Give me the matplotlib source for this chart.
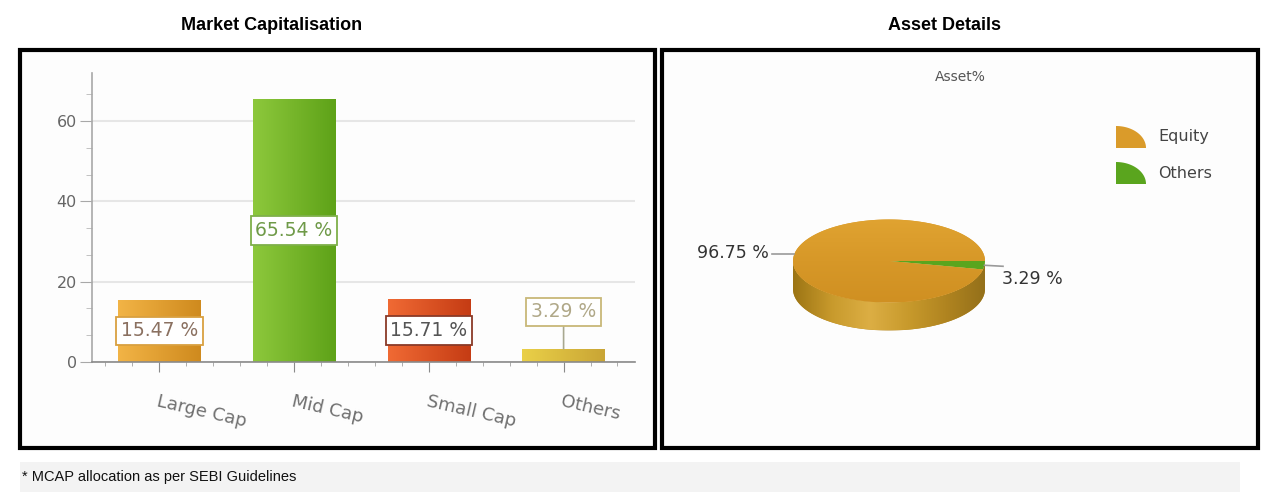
import numpy as np
import matplotlib.pyplot as plt
from matplotlib.patches import Rectangle, Polygon
from matplotlib.colors import LinearSegmentedColormap
from matplotlib.ticker import MultipleLocator

W, H = 1270, 501

# market capitalisation split (%)
cap_labels = ['Large Cap', 'Mid Cap', 'Small Cap', 'Others']
cap_values = [15.47, 65.54, 15.71, 3.29]
cap_light = ['#f2b446', '#8dc83c', '#f06a34', '#ead048']
cap_dark = ['#cf8a1e', '#5ea218', '#c53c14', '#c9a535']
box_edge = ['#d9a040', '#7fb04a', '#8a3a28', '#c8b878']
box_text = ['#8a7060', '#6f9a48', '#555555', '#b0a888']

# asset allocation (%)
asset_labels = ['Equity', 'Others']
asset_values = [96.75, 3.29]
asset_colors = ['#da9b2a', '#5aa51e']


def px_rect(x0, y0, x1, y1):
    # pixel box with top-left origin -> figure fraction [l, b, w, h]
    return [x0 / W, 1 - y1 / H, (x1 - x0) / W, (y1 - y0) / H]


def frame(x0, y0, x1, y1, **kw):
    r = Rectangle((x0 / W, 1 - y1 / H), (x1 - x0) / W, (y1 - y0) / H,
                  transform=fig.transFigure, **kw)
    fig.add_artist(r)
    return r


fig = plt.figure(figsize=(W / 100, H / 100), dpi=100)
fig.patch.set_facecolor('white')

# panel frames and footer strip
frame(20, 50, 655, 448, facecolor='#fdfdfd', edgecolor='black', lw=3, zorder=0)
frame(662, 50, 1258, 448, facecolor='#fdfdfd', edgecolor='black', lw=3, zorder=0)
frame(20, 462, 1240, 492, facecolor='#f3f3f3', edgecolor='none', zorder=0)

fig.text(272 / W, 1 - 25 / H, 'Market Capitalisation', ha='center', va='center',
         fontsize=13, fontweight='bold', family='Liberation Sans')
fig.text(945 / W, 1 - 25 / H, 'Asset Details', ha='center', va='center',
         fontsize=13, fontweight='bold', family='Liberation Sans')
fig.text(22 / W, 1 - 477 / H, '* MCAP allocation as per SEBI Guidelines', ha='left',
         va='center', fontsize=10.5, family='Liberation Sans', color='#111111')

# ---- bar chart ----
ax = fig.add_axes(px_rect(92, 73, 635, 362))
ax.set_facecolor('none')
x = np.arange(len(cap_values))
bw = 0.61
bars = ax.bar(x, cap_values, width=bw, color=cap_dark, zorder=2)
for b, c0, c1 in zip(bars, cap_light, cap_dark):
    cmap = LinearSegmentedColormap.from_list('bar', [c0, c1])
    bx, by = b.get_x(), b.get_y()
    im = ax.imshow(np.linspace(0, 1, 128)[None, :], cmap=cmap, aspect='auto',
                   extent=[bx, bx + b.get_width(), by, by + b.get_height()], zorder=2.1)
    im.set_clip_path(b)

ax.set_xlim(-0.5, 3.53)
ax.set_ylim(0, 72)
for s in ['top', 'right']:
    ax.spines[s].set_visible(False)
ax.spines['left'].set_color('#a8a8a8')
ax.spines['bottom'].set_color('#8a8a8a')
ax.spines['left'].set_linewidth(1.2)
ax.spines['bottom'].set_linewidth(1.2)

ax.yaxis.set_major_locator(MultipleLocator(20))
ax.yaxis.set_minor_locator(MultipleLocator(20 / 3))
ax.xaxis.set_minor_locator(MultipleLocator(0.2))
ax.set_xticks(x)
ax.set_xticklabels(cap_labels, rotation=-13, ha='left', rotation_mode='anchor')
ax.tick_params(axis='y', which='major', length=9, color='#a8a8a8', labelsize=11.5,
               labelcolor='#666666', pad=2)
ax.tick_params(axis='y', which='minor', length=4, color='#b8b8b8')
ax.tick_params(axis='x', which='major', length=7, color='#8a8a8a', labelsize=13,
               labelcolor='#707070', pad=15)
ax.tick_params(axis='x', which='minor', length=3, color='#a0a0a0')
ax.grid(axis='y', which='major', color='#e6e6e6', lw=1.5, zorder=0)
ax.set_axisbelow(True)

for i, v in enumerate(cap_values):
    bbox = dict(boxstyle='square,pad=0.25', facecolor='white', edgecolor=box_edge[i], lw=1.3)
    if v > 10:
        ax.text(i, v / 2, f'{v:.2f} %', ha='center', va='center', fontsize=13.5,
                color=box_text[i], bbox=bbox, zorder=4)
    else:
        ax.annotate(f'{v:.2f} %', xy=(i, v), xytext=(i, 12.5), ha='center', va='center',
                    fontsize=13.5, color=box_text[i], bbox=bbox, zorder=4,
                    arrowprops=dict(arrowstyle='-', color='#a8a890', lw=1.2,
                                    shrinkA=0, shrinkB=0))

# ---- 3D pie ----
ax2 = fig.add_axes(px_rect(662, 50, 1258, 448))
ax2.set_xlim(662, 1258)
ax2.set_ylim(448, 50)
ax2.axis('off')

cx, cy, ra, rb, depth = 889, 261, 96, 41.5, 28


def ell(t):
    t = np.radians(t)
    return cx + ra * np.cos(t), cy - rb * np.sin(t)


ax2.text(960, 77, 'Asset%', ha='center', va='center', fontsize=10, color='#555555')

# side wall (front half of the ellipse)
ts = np.linspace(180, 360, 120)
sx, sy = ell(ts)
side = Polygon(np.column_stack([np.r_[sx, sx[::-1]], np.r_[sy, sy[::-1] + depth]]),
               closed=True, facecolor='#b88a22', edgecolor='none', zorder=1)
ax2.add_patch(side)
side_cmap = LinearSegmentedColormap.from_list(
    'side', ['#9c7414', '#c89a2c', '#dcae44', '#c89a2c', '#b08420', '#94701a'])
im = ax2.imshow(np.linspace(0, 1, 256)[None, :], cmap=side_cmap, aspect='auto',
                extent=[cx - ra, cx + ra, cy + rb + depth, cy - rb], zorder=1.1)
im.set_clip_path(side)

# top face wedges
fracs = np.array(asset_values) / sum(asset_values)
start = 0.0
mids = []
for frac, col in zip(fracs, asset_colors):
    end = start + 360 * frac
    tt = np.linspace(start, end, max(4, int(abs(end - start))))
    px, py = ell(tt)
    wedge = Polygon(np.column_stack([np.r_[cx, px], np.r_[cy, py]]), closed=True,
                    facecolor=col, edgecolor='none', zorder=2)
    ax2.add_patch(wedge)
    if col == asset_colors[0]:
        top_cmap = LinearSegmentedColormap.from_list('top', ['#e0a331', '#d79828', '#d09022'])
        im = ax2.imshow(np.linspace(0, 1, 128)[:, None], cmap=top_cmap, aspect='auto',
                        extent=[cx - ra, cx + ra, cy + rb, cy - rb], zorder=2.1)
        im.set_clip_path(wedge)
    mids.append((start + end) / 2)
    start = end

# slice labels with leader lines
lx, ly = ell(mids[0])
ax2.plot([lx, 772], [ly - 3, ly - 3], color='#9a9a9a', lw=1.2, zorder=3)
ax2.text(769, ly - 4, f'{asset_values[0]:.2f} %', ha='right', va='center',
         fontsize=12.5, color='#333333')
rx, ry = ell(mids[1])
ax2.plot([rx, 1003], [ry, ry + 1], color='#9a9a9a', lw=1.2, zorder=3)
ax2.text(1002, ry + 5, f'{asset_values[1]:.2f} %', ha='left', va='top',
         fontsize=12.5, color='#333333')

# legend with quarter-disc markers
q = np.radians(np.linspace(0, 90, 30))
for k, (lab, col) in enumerate(zip(asset_labels, asset_colors)):
    y0 = 148 + k * 36
    qx = 1116 + 30 * np.cos(q)
    qy = y0 - 22 * np.sin(q)
    ax2.add_patch(Polygon(np.column_stack([np.r_[1116, qx], np.r_[y0, qy]]),
                          closed=True, facecolor=col, edgecolor='none'))
    ax2.text(1158, y0 - 11, lab, ha='left', va='center', fontsize=11.5, color='#444444')

fig.savefig('out.png', dpi=100)
